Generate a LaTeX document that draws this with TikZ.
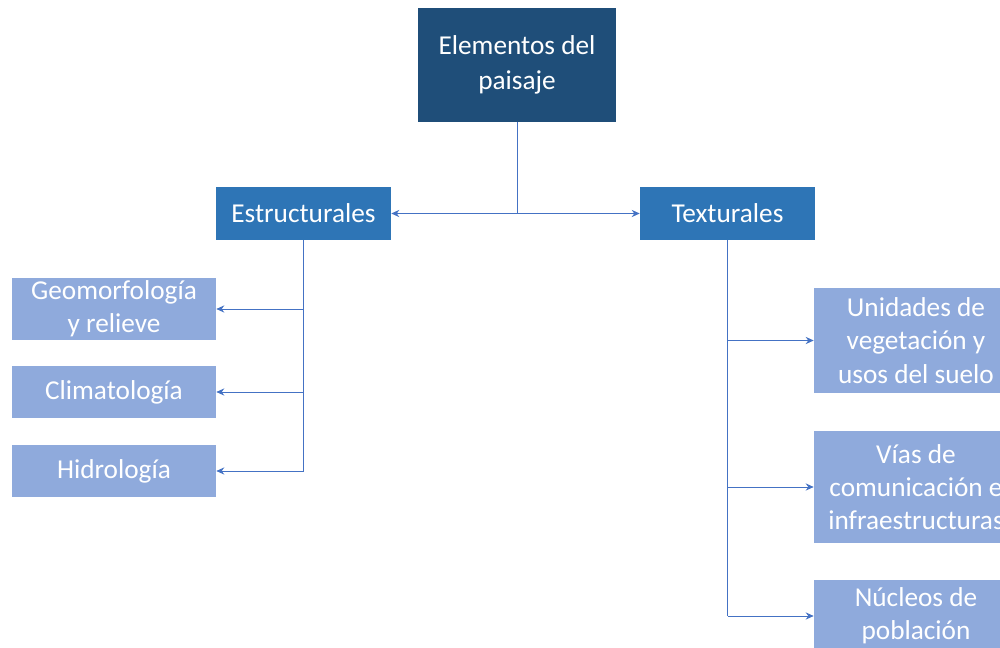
\documentclass[tikz,border=0pt]{standalone}
\usepackage{fontspec}
\setmainfont{Carlito}
\usetikzlibrary{arrows.meta}
\definecolor{navy}{HTML}{1F4E79}
\definecolor{midblue}{HTML}{2E75B6}
\definecolor{lightblue}{HTML}{8FAADC}
\definecolor{linkblue}{HTML}{4472C4}
\begin{document}
\begin{tikzpicture}[x=0.025cm, y=-0.025cm,
   box/.style={inner sep=0pt, align=center, text=white,
     font=\fontsize{19.4}{23.6}\selectfont},
   topbox/.style={box, fill=navy, minimum width=4.95cm, minimum height=2.85cm},
   midbox/.style={box, fill=midblue, minimum width=4.375cm, minimum height=1.325cm},
   leafbox/.style={box, fill=lightblue, minimum width=5.1cm},
   link/.style={draw=linkblue, line width=0.6pt},
   arr/.style={link, -{Stealth[length=2mm,width=1.8mm]}}]
   \useasboundingbox (0,0) rectangle (1000,648);
   \clip (0,0) rectangle (1000,648);
   \node[topbox, font=\fontsize{19.4}{25}\selectfont] (elem) at (517,65) {Elementos del\\paisaje};
   \node[midbox] (estr) at (303.5,213.5) {Estructurales};
   \node[midbox] (text) at (727.5,213.5) {Texturales};
   \node[leafbox, minimum height=1.55cm] (geo) at (114,309) {Geomorfología\\y relieve};
   \node[leafbox, minimum height=1.3cm] (clim) at (114,392) {Climatología};
   \node[leafbox, minimum height=1.3cm] (hidro) at (114,471) {Hidrología};
   \node[leafbox, minimum height=2.625cm] (unid) at (916,340.5) {Unidades de\\vegetación y\\usos del suelo};
   \node[leafbox, minimum height=2.8cm] (vias) at (916,487) {Vías de\\comunicación e\\infraestructuras};
   \node[leafbox, minimum height=1.8cm] (nucl) at (916,616) {Núcleos de\\población};
   \coordinate (top) at (elem.south |- estr.east);
   \draw[link] (elem) -- (top);
   \draw[arr] (top) -- (estr);
   \draw[arr] (top) -- (text);
   \coordinate (lgeo) at (estr.south |- geo.east);
   \coordinate (lclim) at (estr.south |- clim.east);
   \coordinate (lhidro) at (estr.south |- hidro.east);
   \draw[link] (estr) -- (lhidro);
   \draw[arr] (lgeo) -- (geo);
   \draw[arr] (lclim) -- (clim);
   \draw[arr] (lhidro) -- (hidro);
   \coordinate (runid) at (text.south |- unid.west);
   \coordinate (rvias) at (text.south |- vias.west);
   \coordinate (rnucl) at (text.south |- nucl.west);
   \draw[link] (text) -- (rnucl);
   \draw[arr] (runid) -- (unid);
   \draw[arr] (rvias) -- (vias);
   \draw[arr] (rnucl) -- (nucl);
\end{tikzpicture}
\end{document}
